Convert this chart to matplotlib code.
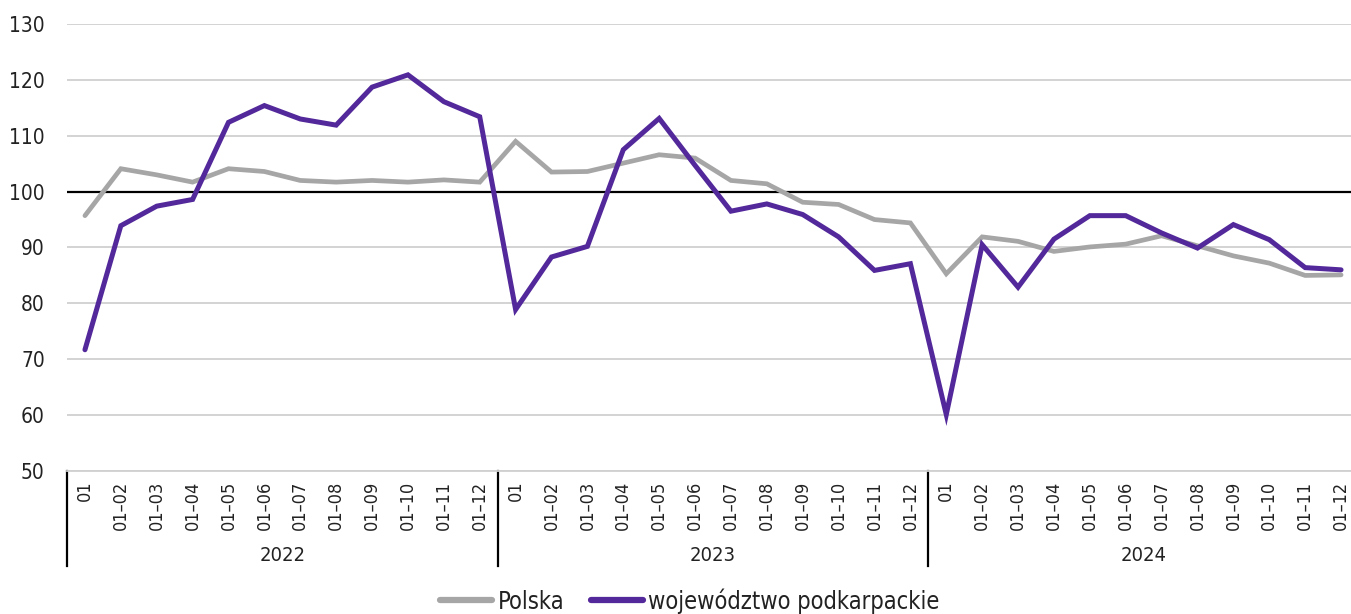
import matplotlib
matplotlib.use("Agg")
import matplotlib.pyplot as plt
from matplotlib.lines import Line2D

# Dane (indeks, okres analogiczny roku poprzedniego = 100)
years = ["2022", "2023", "2024"]
months = ["01", "01–02", "01–03", "01–04", "01–05", "01–06",
          "01–07", "01–08", "01–09", "01–10", "01–11", "01–12"]
polska = [95.7, 104.1, 103.0, 101.7, 104.1, 103.6, 102.0, 101.7, 102.0, 101.7, 102.1, 101.7,
          109.0, 103.5, 103.6, 105.1, 106.6, 106.0, 102.0, 101.4, 98.1, 97.7, 95.0, 94.4,
          85.3, 91.9, 91.1, 89.3, 90.1, 90.6, 92.1, 90.3, 88.5, 87.2, 85.0, 85.1]
podkarpackie = [71.7, 93.9, 97.4, 98.6, 112.4, 115.4, 113.0, 111.9, 118.7, 120.9, 116.1, 113.4,
                78.9, 88.3, 90.2, 107.5, 113.1, 104.7, 96.5, 97.8, 95.9, 91.9, 85.9, 87.1,
                60.1, 90.5, 82.9, 91.5, 95.7, 95.7, 92.6, 89.9, 94.1, 91.4, 86.4, 86.0]

# zwężony DejaVu jest najbliżej kroju z oryginału
plt.rcParams["font.family"] = ["DejaVu Sans"]
plt.rcParams["font.stretch"] = "condensed"

labels = months * len(years)
x = list(range(len(labels)))

fig = plt.figure(figsize=(13.51, 6.14), dpi=100)
ax = fig.add_axes([67 / 1351, 143 / 614, 1292 / 1351, 447 / 614])

ax.plot(x, polska, color="#a6a6a6", lw=3.4, solid_capstyle="round", solid_joinstyle="miter", zorder=3)
ax.plot(x, podkarpackie, color="#52289a", lw=3.6, solid_capstyle="round", solid_joinstyle="miter", zorder=4)

ax.set_ylim(50, 130)
ax.set_xlim(-0.5, len(labels) - 0.5)
ax.set_yticks(range(50, 131, 10))
ax.grid(axis="y", color="#d0d0d0", lw=1.3, zorder=0)
ax.axhline(100, color="black", lw=1.6, zorder=2)
for s in ["left", "right", "top"]:
    ax.spines[s].set_visible(False)
ax.spines["bottom"].set_color("#d0d0d0")
ax.spines["bottom"].set_linewidth(1.3)

ax.tick_params(axis="y", length=0, pad=16, labelsize=15, labelcolor="#222222")
ax.set_xticks(x)
ax.set_xticklabels(labels, rotation=90, fontsize=13, color="#222222", va="top")
ax.tick_params(axis="x", length=0, pad=7)

# podział na lata pod osią
trans = ax.get_xaxis_transform()
for i, year in enumerate(years):
    ax.add_line(Line2D([i * 12 - 0.5] * 2, [0, -0.213], transform=trans,
                       color="black", lw=1.6, clip_on=False))
    ax.text(i * 12 + 5.5, -0.188, year, transform=trans, ha="center", va="center",
            fontsize=14.5, color="#222222")

handles = [Line2D([], [], color="#a6a6a6", lw=4.5, solid_capstyle="round"),
           Line2D([], [], color="#52289a", lw=4.5, solid_capstyle="round")]
fig.legend(handles, ["Polska", "województwo podkarpackie"], loc="center",
           bbox_to_anchor=(690 / 1351, 13 / 614), ncol=2, frameon=False, fontsize=17,
           handlelength=2.2, handletextpad=0.25, columnspacing=1.1, labelcolor="#222222")

fig.savefig("out.png", dpi=100)
